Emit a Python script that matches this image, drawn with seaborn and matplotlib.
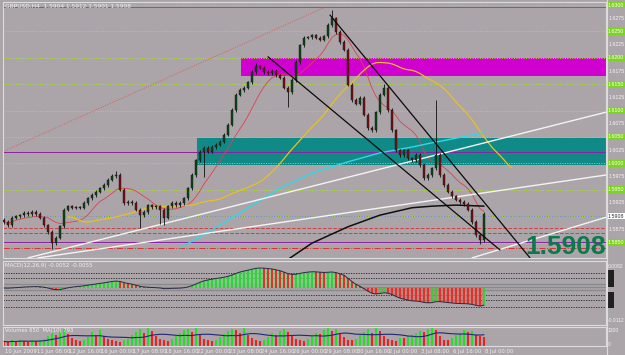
import matplotlib
matplotlib.use("Agg")
import matplotlib.pyplot as plt
import seaborn as sns
import numpy as np
import pandas as pd

# ---------------- data ----------------
close = [1.5889, 1.5883, 1.5897, 1.5900, 1.5902, 1.5906, 1.5904, 1.5908, 1.5904, 1.5897,
         1.5883, 1.5870, 1.5849, 1.5859, 1.5881, 1.5912, 1.5919, 1.5916, 1.5917, 1.5916,
         1.5925, 1.5934, 1.5940, 1.5946, 1.5953, 1.5959, 1.5969, 1.5976, 1.5978, 1.5950,
         1.5925, 1.5927, 1.5925, 1.5912, 1.5902, 1.5908, 1.5921, 1.5917, 1.5919, 1.5912,
         1.5897, 1.5919, 1.5925, 1.5921, 1.5925, 1.5934, 1.5953, 1.5978, 1.6006, 1.6022,
         1.6029, 1.6022, 1.6031, 1.6035, 1.6041, 1.6054, 1.6073, 1.6101, 1.6130, 1.6139,
         1.6143, 1.6154, 1.6173, 1.6184, 1.6181, 1.6173, 1.6171, 1.6175, 1.6167, 1.6162,
         1.6143, 1.6135, 1.6158, 1.6192, 1.6224, 1.6238, 1.6239, 1.6243, 1.6238, 1.6234,
         1.6241, 1.6262, 1.6275, 1.6249, 1.6230, 1.6215, 1.6149, 1.6120, 1.6113, 1.6124,
         1.6092, 1.6067, 1.6063, 1.6097, 1.6130, 1.6143, 1.6101, 1.6063, 1.6025, 1.6016,
         1.6025, 1.6010, 1.6006, 1.6016, 1.5997, 1.5972, 1.5978, 1.5991, 1.6016, 1.5978,
         1.5959, 1.5946, 1.5938, 1.5931, 1.5927, 1.5923, 1.5912, 1.5889, 1.5864, 1.5855,
         1.5905]
first_open = 1.5893
high_extra = {28: 1.5985, 63: 1.6190, 82: 1.6290, 95: 1.6150, 108: 1.6120}
low_extra = {12: 1.5838, 34: 1.5878, 39: 1.5885, 40: 1.5884, 50: 1.5974, 71: 1.6107, 119: 1.5848}

volume = [25, 20, 30, 22, 35, 28, 20, 30, 25, 35,
          40, 55, 70, 60, 80, 90, 65, 45, 30, 25,
          35, 50, 75, 60, 85, 55, 40, 30, 25, 20,
          30, 40, 60, 75, 90, 70, 95, 80, 55, 40,
          30, 25, 40, 55, 70, 85, 90, 75, 95, 60,
          40, 30, 25, 35, 50, 65, 80, 90, 85, 70,
          95, 60, 45, 30, 25, 35, 50, 70, 60, 80,
          90, 75, 55, 40, 30, 25, 40, 55, 70, 65,
          85, 95, 80, 90, 70, 50, 35, 30, 40, 60,
          75, 90, 70, 95, 80, 55, 40, 30, 25, 45,
          45, 55, 60, 70, 80, 75, 90, 100, 85, 55,
          35, 30, 45, 60, 70, 85, 75, 80, 60, 55, 50]

cyan_idx = [44, 52, 61, 69, 77, 86, 94, 102, 107, 120]
cyan_val = [1.5840, 1.5874, 1.5916, 1.5953, 1.5982, 1.6003, 1.6020, 1.6031, 1.6039, 1.6058]
black_idx = [70, 77, 86, 94, 102, 107, 113, 120]
black_val = [1.5813, 1.5849, 1.5880, 1.5902, 1.5916, 1.5919, 1.5921, 1.5919]

white_lines = [((6, 1.5821), (150.5, 1.6097)),
               ((8.5, 1.5821), (150.5, 1.5978)),
               ((117, 1.5821), (150.5, 1.5898))]
black_lines = [((81.5, 1.6281), (131.5, 1.5821)),
               ((66, 1.6202), (124, 1.5836))]
red_diag = ((-1, 1.6020), (80, 1.6295))

grid_levels = [1.5850, 1.5900, 1.5950, 1.6000, 1.6050, 1.6100, 1.6150, 1.6200, 1.6250, 1.6300]
mid_levels = [1.5875, 1.5925, 1.5975, 1.6025, 1.6075, 1.6125, 1.6175, 1.6225, 1.6275]
hlines = [(1.6296, '#c030c0', '-'), (1.6022, '#9020a0', '-'), (1.5900, '#7080e0', ':'),
          (1.5878, '#d04040', '--'), (1.5868, '#d04040', '--'), (1.5851, '#9020a0', '-'),
          (1.5840, '#e03030', '-.')]
zone_magenta = (59.25, 1.6166, 1.6200)
zone_teal = (48.25, 1.5997, 1.6048)

tick_idx = [0, 8, 16, 24, 32, 40, 48, 56, 64, 72, 80, 88, 96, 104, 112, 120]
tick_lab = ["10 Jun 2009", "11 Jun 08:00", "12 Jun 16:00", "16 Jun 00:00", "17 Jun 08:00",
            "18 Jun 16:00", "22 Jun 00:00", "23 Jun 08:00", "24 Jun 16:00", "26 Jun 00:00",
            "29 Jun 08:00", "30 Jun 16:00", "2 Jul 00:00", "3 Jul 08:00", "6 Jul 16:00",
            "8 Jul 00:00"]
bid = 1.5908

# ---------------- figure ----------------
BG = '#aba5a9'
W, H = 625, 355
fig = plt.figure(figsize=(6.25, 3.55), dpi=100, facecolor=BG)
sns.set_style("dark")
plt.rcParams['font.family'] = ['DejaVu Sans']


def rect(x0, y0, x1, y1):
    return [x0 / W, 1 - y1 / H, (x1 - x0) / W, (y1 - y0) / H]


ax = fig.add_axes(rect(3, 2, 606, 258))
axm = fig.add_axes(rect(3, 261, 606, 325))
axv = fig.add_axes(rect(3, 327, 606, 346))
XL = (-0.25, 150.5)
for a in (ax, axm, axv):
    a.set_facecolor(BG)
    a.set_xlim(*XL)
    a.set_xticks([])
    a.set_yticks([])
    a.grid(False)
    for s in a.spines.values():
        s.set_color('#dcdcdc')
        s.set_linewidth(0.8)

ax.set_ylim(1.58208, 1.63057)

df = pd.DataFrame({'idx': np.arange(len(close)), 'close': close})
df['open'] = [first_open] + close[:-1]
wick = 0.0003
df['high'] = [high_extra.get(i, max(o, c) + wick) for i, (o, c) in enumerate(zip(df['open'], df['close']))]
df['low'] = [low_extra.get(i, min(o, c) - wick) for i, (o, c) in enumerate(zip(df['open'], df['close']))]

# zones
for (x0, lo, hi), col in ((zone_teal, '#0f8a86'), (zone_magenta, '#d000d0')):
    ax.fill_between([x0, XL[1]], lo, hi, color=col, lw=0, zorder=1)

# grid / horizontal lines
for lv in grid_levels:
    ax.axhline(lv, color='#a8e030', ls=(0, (1, 1.5)), lw=0.7, zorder=1.5)
for lv, col, ls in hlines:
    ax.axhline(lv, color=col, ls=ls, lw=0.7, zorder=1.6)

# red dotted diagonal
(x0, y0), (x1, y1) = red_diag
sns.lineplot(x=[x0, x1], y=[y0, y1], ax=ax, color='#d86060', lw=0.6, ls=(0, (1.5, 1.5)), zorder=2)

# moving averages from the closes
ma_red = df['close'].rolling(10, min_periods=1).mean()
sns.lineplot(x=df['idx'], y=ma_red, ax=ax, color='#e04050', lw=0.6, zorder=3)
ma_y = df['close'].rolling(30, min_periods=10).mean()
sns.lineplot(x=df['idx'] + 7, y=ma_y, ax=ax, color='#e8c020', lw=0.9, zorder=3)
sns.lineplot(x=cyan_idx, y=cyan_val, ax=ax, color='#30d8e8', lw=1.0, zorder=3)
sns.lineplot(x=black_idx, y=black_val, ax=ax, color='#101010', lw=1.1, zorder=3)

# trend lines
for (x0, y0), (x1, y1) in white_lines:
    sns.lineplot(x=[x0, x1], y=[y0, y1], ax=ax, color='#f4f4f4', lw=1.0, zorder=3.5)
for (x0, y0), (x1, y1) in black_lines:
    sns.lineplot(x=[x0, x1], y=[y0, y1], ax=ax, color='#0a0a0a', lw=0.9, zorder=5)

# candles
up = df['close'] >= df['open']
ccol = np.where(up, '#0c4a1a', '#7a1010')
ax.vlines(df['idx'], df['low'], df['high'], colors='#101010', lw=0.6, zorder=4)
body = (df['close'] - df['open']).abs().clip(lower=0.00008)
ax.bar(df['idx'], body, bottom=df[['open', 'close']].min(axis=1), width=0.6,
       color=ccol, edgecolor='#101010', lw=0.3, zorder=4.5)

# big price text
fig.text(606 / W, 1 - 254 / H, f"{bid:.4f}", ha='right', va='baseline',
         fontsize=19, fontweight='bold', color='#0a7a4c', family='Liberation Sans')

# titles
ax.text(0.004, 0.995, "GBPUSD,H4  1.5904 1.5912 1.5901 1.5908", transform=ax.transAxes,
        fontsize=4.2, color='#f0f0f0', va='top', ha='left')

# right price scale
LF = 'Liberation Sans'
for lv in grid_levels:
    if abs(lv - 1.5900) < 1e-6:
        continue
    ax.text(1.003, lv, f"{lv:.4f}", transform=ax.get_yaxis_transform(), fontsize=3.8,
            family=LF, color='#ffffff', va='center', ha='left', clip_on=False,
            bbox=dict(boxstyle='square,pad=0.15', fc='#7ed321', ec='none'))
for lv in mid_levels:
    ax.text(1.004, lv, f"{lv:.4f}", transform=ax.get_yaxis_transform(), fontsize=3.8,
            family=LF, color='#f4f4f4', va='center', ha='left', clip_on=False)
ax.text(1.003, 1.5900, f"{bid:.4f}", transform=ax.get_yaxis_transform(), fontsize=3.8,
        family=LF, color='#303030', va='center', ha='left', clip_on=False,
        bbox=dict(boxstyle='square,pad=0.15', fc='#ffffff', ec='none'))

# ---------------- MACD ----------------
ema12 = df['close'].ewm(span=12, adjust=False).mean()
ema26 = df['close'].ewm(span=26, adjust=False).mean()
macd = ema12 - ema26
k = max(macd.max() / 20.0, -macd.min() / 34.0)
axm.set_ylim(-37 * k, 27 * k)
for ypx, col, ls, lw in ((273, '#202020', (0, (1.5, 1.5)), 0.6), (278, '#202020', (0, (1.5, 1.5)), 0.6),
                         (284, '#8a8a8a', '-', 1.0), (287, '#8a8a8a', '-', 1.0), (290, '#8a8a8a', '-', 1.0),
                         (295, '#202020', (0, (1.5, 1.5)), 0.6), (300, '#202020', (0, (1.5, 1.5)), 0.6),
                         (307, '#202020', (0, (1.5, 1.5)), 0.6)):
    axm.axhline((288 - ypx) * k, color=col, ls=ls, lw=lw, zorder=1)
rising = macd.diff().fillna(0) >= 0
axm.fill_between(df['idx'], 0, macd, where=macd >= 0, color='#7ad87a', alpha=0.7, lw=0, zorder=2)
axm.fill_between(df['idx'], 0, macd, where=macd < 0, color='#c87a6a', alpha=0.7, lw=0, zorder=2)
axm.bar(df['idx'], macd, width=0.45, color=np.where(rising, '#30d040', '#e03030'), lw=0, zorder=2.5)
sns.lineplot(x=df['idx'], y=macd, ax=axm, color='#2a2a48', lw=0.7, zorder=3)
axm.text(0.004, 0.97, f"MACD(12,26,9) {macd.iloc[-1]:.4f} {macd.iloc[-2]:.4f}", transform=axm.transAxes,
         fontsize=4.0, color='#f0f0f0', va='top', ha='left')
for y0, y1 in ((270, 287), (292, 308)):
    fig.patches.append(plt.Rectangle((608 / W, 1 - y1 / H), 6 / W, (y1 - y0) / H,
                                     transform=fig.transFigure, fc='#202020', ec='none'))
fig.text(608 / W, 1 - 266 / H, f"{27 * k:.4f}", fontsize=3.6, family=LF, color='#f0f0f0', va='center')
fig.text(608 / W, 1 - 321 / H, f"{-37 * k:.4f}", fontsize=3.6, family=LF, color='#f0f0f0', va='center')

# ---------------- Volumes ----------------
vol = pd.Series(volume, dtype=float)
axv.set_ylim(0, vol.max() * 1.03)
vcol = np.where(vol.diff().fillna(0) > 0, '#22e022', '#ee2020')
axv.bar(df['idx'], vol, width=0.6, color=vcol, lw=0, zorder=2)
sns.lineplot(x=df['idx'], y=vol.rolling(10, min_periods=1).mean(), ax=axv, color='#202878', lw=0.8, zorder=3)
axv.text(0.004, 0.95, f"Volumes {int(vol.iloc[-1] * 13)}  MA(10) {int(vol.rolling(10).mean().iloc[-1] * 13)}",
         transform=axv.transAxes, fontsize=3.8, color='#f0f0f0', va='top', ha='left')
fig.text(608 / W, 1 - 331 / H, "1300", fontsize=3.6, family=LF, color='#f0f0f0', va='center')
fig.text(608 / W, 1 - 344 / H, "0", fontsize=3.6, family=LF, color='#f0f0f0', va='center')

# date labels
for i, lab in zip(tick_idx, tick_lab):
    xpx = 3 + (i - XL[0]) / (XL[1] - XL[0]) * 603
    fig.text((xpx + 1) / W, 1 - 351 / H, lab, fontsize=3.8, color='#eeeeee', va='center', ha='left')

# right separator
fig.add_artist(plt.Line2D([607 / W, 607 / W], [0, 1], transform=fig.transFigure, color='#dcdcdc', lw=0.8))

for a in (ax, axm, axv):
    leg = a.get_legend()
    if leg:
        leg.remove()

fig.savefig("out.png", dpi=100, facecolor=BG)
